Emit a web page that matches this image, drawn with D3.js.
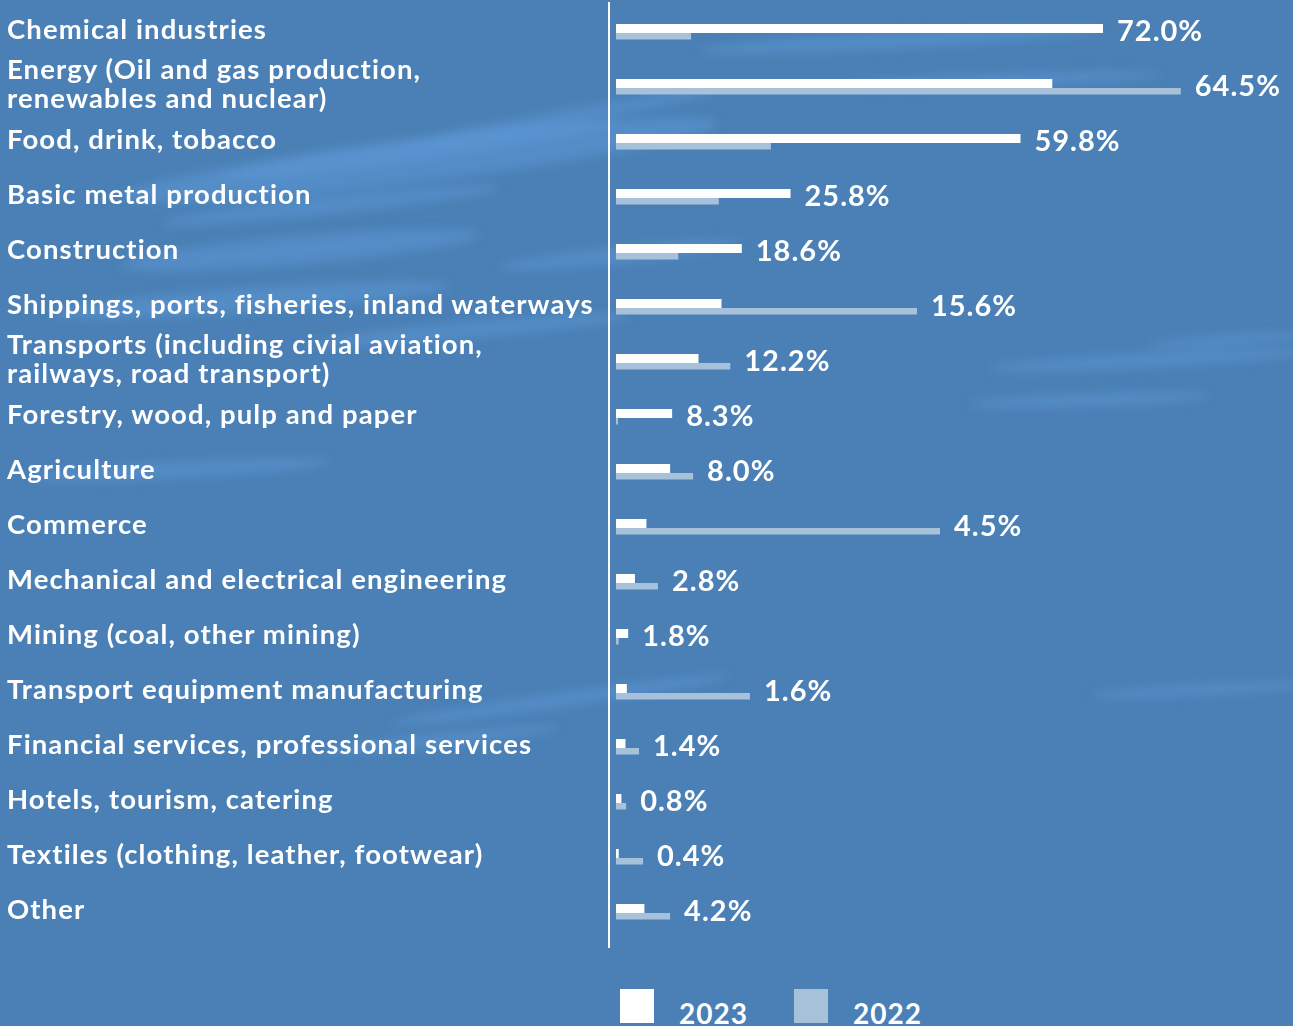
<!DOCTYPE html>
<html>
<head>
<meta charset="utf-8">
<script src="https://cdn.jsdelivr.net/npm/d3@7"></script>
<style>
  html, body { margin: 0; padding: 0; background: #4a80b5; }
  svg { display: block; }
  text { font-family: Lato, "Open Sans", sans-serif; font-weight: 700; fill: #ffffff; }
</style>
</head>
<body>
<svg id="chart" width="1293" height="1026"></svg>
<script>
// Sectors (line breaks mark two-line labels)
const categories = [
  "Chemical industries",
  "Energy (Oil and gas production,\nrenewables and nuclear)",
  "Food, drink, tobacco",
  "Basic metal production",
  "Construction",
  "Shippings, ports, fisheries, inland waterways",
  "Transports (including civial aviation,\nrailways, road transport)",
  "Forestry, wood, pulp and paper",
  "Agriculture",
  "Commerce",
  "Mechanical and electrical engineering",
  "Mining (coal, other mining)",
  "Transport equipment manufacturing",
  "Financial services, professional services",
  "Hotels, tourism, catering",
  "Textiles (clothing, leather, footwear)",
  "Other"
];

// Share of respondents, %
const values2023 = [72.0, 64.5, 59.8, 25.8, 18.6, 15.6, 12.2, 8.3, 8.0, 4.5, 2.8, 1.8, 1.6, 1.4, 0.8, 0.4, 4.2];
const values2022 = [11.1, 83.5, 22.9, 15.2, 9.2, 44.5, 16.9, 0.3, 11.4, 47.9, 6.2, 0.4, 19.8, 3.4, 1.5, 4.0, 8.0];

const seriesNames = ["2023", "2022"];
const seriesColors = ["#ffffff", "#a7c1db"];

const svg = d3.select("#chart");
const W = 1293, H = 1026;

// ---- textured blue backdrop ----
const defs = svg.append("defs");
defs.append("filter").attr("id", "soft")
  .attr("x", "-50%").attr("y", "-50%").attr("width", "200%").attr("height", "200%")
  .append("feGaussianBlur").attr("stdDeviation", 5);

svg.append("rect").attr("width", W).attr("height", H).attr("fill", "#4a80b5");

const streaks = [
  [420, 150, 200, 10, -8], [560, 118, 160, 7, -10], [330, 205, 170, 9, -6],
  [250, 300, 200, 12, -4], [470, 330, 160, 8, -5], [180, 470, 150, 8, -3],
  [1150, 360, 160, 7, -3], [1230, 340, 80, 5, -4], [1090, 400, 120, 6, -2],
  [420, 160, 300, 22, -7], [560, 700, 170, 7, -8], [440, 740, 120, 6, -6],
  [1200, 690, 110, 5, -3], [900, 40, 200, 8, -3], [1000, 80, 160, 6, -2],
  [300, 250, 180, 14, -5], [620, 255, 120, 8, -6]
];
svg.append("g").attr("filter", "url(#soft)")
  .selectAll("ellipse").data(streaks).join("ellipse")
  .attr("cx", d => d[0]).attr("cy", d => d[1])
  .attr("rx", d => d[2]).attr("ry", d => d[3])
  .attr("transform", d => `rotate(${d[4]},${d[0]},${d[1]})`)
  .attr("fill", "#5d97d6").attr("opacity", 0.55);

// ---- scales ----
const x = d3.scaleLinear().domain([0, 100]).range([616, 616 + 676.4]);
const y = d3.scaleBand().domain(categories).range([5.5, 940.5]).padding(0);
const mid = c => y(c) + y.bandwidth() / 2;

const rows = categories.map((c, i) => ({ c, v23: values2023[i], v22: values2022[i] }));

// ---- vertical axis line ----
svg.append("line")
  .attr("x1", 609).attr("x2", 609)
  .attr("y1", 2).attr("y2", 948)
  .attr("stroke", "#ffffff").attr("stroke-width", 2);

// ---- bars ----
const g = svg.append("g");
g.selectAll("rect.b22").data(rows).join("rect").attr("class", "b22")
  .attr("x", x(0)).attr("y", d => mid(d.c))
  .attr("width", d => x(d.v22) - x(0)).attr("height", 6.5)
  .attr("fill", seriesColors[1]);
g.selectAll("rect.b23").data(rows).join("rect").attr("class", "b23")
  .attr("x", x(0)).attr("y", d => mid(d.c) - 9)
  .attr("width", d => x(d.v23) - x(0)).attr("height", 9)
  .attr("fill", seriesColors[0]);

// ---- value labels (2023 share), placed after the longer bar ----
g.selectAll("text.val").data(rows).join("text").attr("class", "val")
  .attr("x", d => x(Math.max(d.v23, d.v22)) + 14)
  .attr("y", d => mid(d.c) - 4)
  .attr("dominant-baseline", "central")
  .attr("font-size", 29)
  .attr("letter-spacing", 1)
  .text(d => d.v23.toFixed(1) + "%");

// ---- category labels ----
const labels = svg.append("g").selectAll("text.cat").data(rows).join("text")
  .attr("class", "cat")
  .attr("x", 7)
  .attr("font-size", 27.5)
  .attr("letter-spacing", 1.1);
labels.each(function (d) {
  const lines = d.c.split("\n");
  const t = d3.select(this);
  const lh = 29;
  const top = mid(d.c) - 5 - (lines.length - 1) * lh / 2;
  lines.forEach((ln, k) => {
    t.append("tspan").attr("x", 7).attr("y", top + k * lh)
      .attr("dominant-baseline", "central").text(ln);
  });
});

// ---- legend ----
const leg = svg.append("g").selectAll("g").data(seriesNames).join("g")
  .attr("transform", (d, i) => `translate(${620 + i * 174},989)`);
leg.append("rect").attr("width", 34).attr("height", 34)
  .attr("fill", (d, i) => seriesColors[i]);
leg.append("text").attr("x", 59).attr("y", 35).attr("font-size", 28)
  .attr("letter-spacing", 1).text(d => d);
</script>
</body>
</html>
